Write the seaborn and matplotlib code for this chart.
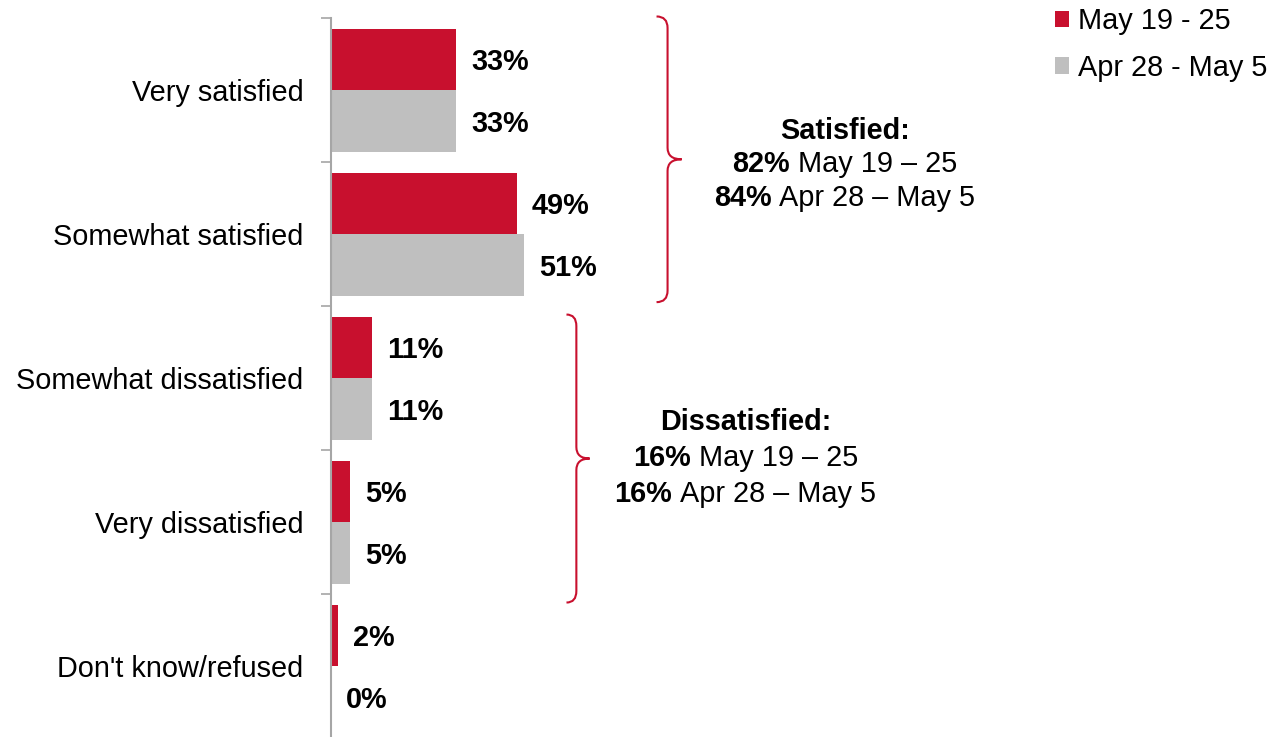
import matplotlib
matplotlib.use("Agg")
import numpy as np
import pandas as pd
import matplotlib.pyplot as plt
import seaborn as sns
from matplotlib.path import Path
from matplotlib.patches import PathPatch, Patch
from matplotlib.offsetbox import TextArea, HPacker, AnnotationBbox

# data
categories = ["Very satisfied", "Somewhat satisfied", "Somewhat dissatisfied",
              "Very dissatisfied", "Don't know/refused"]
periods = ["May 19 - 25", "Apr 28 - May 5"]
may_19_25 = [33, 49, 11, 5, 2]
apr_28_may_5 = [33, 51, 11, 5, 0]

summary_periods = ["May 19 \u2013 25", "Apr 28 \u2013 May 5"]
satisfied_totals = [82, 84]
dissatisfied_totals = [16, 16]

RED = "#C8102E"
GREY = "#BFBFBF"
AXIS_GREY = "#A6A6A6"
FS = 20.8

df = pd.DataFrame({
    "category": categories * 2,
    "value": may_19_25 + apr_28_may_5,
    "period": [periods[0]] * len(categories) + [periods[1]] * len(categories),
})

sns.set_theme(style="white")
plt.rcParams["font.family"] = ["Liberation Sans", "DejaVu Sans"]
plt.rcParams["text.color"] = "black"
plt.rcParams["ytick.color"] = "black"

fig = plt.figure(figsize=(12.78, 7.37), dpi=100)
px_per_pct = 3.8
left_px = 330.5
ax = fig.add_axes([left_px / 1278, -0.002, 1 - left_px / 1278, 720 / 737])

sns.barplot(data=df, y="category", x="value", hue="period", hue_order=periods,
            order=categories, orient="h", palette=[RED, GREY], saturation=1,
            width=0.86, linewidth=0, legend=False, ax=ax)

ax.set_xlim(0, (1278 - left_px) / px_per_pct)
ax.set_ylim(len(categories) - 0.5, -0.5)

# value labels just right of each bar
for cont in ax.containers:
    for bar in cont:
        w = bar.get_width()
        ax.annotate(f"{w:.0f}%", (w, bar.get_y() + bar.get_height() / 2),
                    xytext=(11, -2), textcoords="offset points",
                    ha="left", va="center", fontsize=FS, fontweight="bold",
                    color="black")

ax.xaxis.set_visible(False)
ax.set_ylabel("")
for s in ["top", "right", "bottom"]:
    ax.spines[s].set_visible(False)
ax.spines["left"].set_color(AXIS_GREY)
ax.spines["left"].set_linewidth(1.5)
ax.set_yticks(np.arange(-0.5, len(categories), 1), minor=True)
ax.tick_params(axis="y", which="major", length=0, pad=19.5, labelsize=FS,
               labelcolor="black")
ax.tick_params(axis="y", which="minor", length=7, width=1.2,
               color=AXIS_GREY, direction="out", left=True)


def brace(ax, x_hook, x_line, x_tip, y0, y1, r=0.08):
    ym = (y0 + y1) / 2
    verts = [(x_hook, y0), (x_line, y0), (x_line, y0 + r),
             (x_line, ym - r), (x_line, ym), (x_tip, ym),
             (x_line, ym), (x_line, ym + r),
             (x_line, y1 - r), (x_line, y1), (x_hook, y1)]
    codes = [Path.MOVETO, Path.CURVE3, Path.CURVE3,
             Path.LINETO, Path.CURVE3, Path.CURVE3,
             Path.CURVE3, Path.CURVE3,
             Path.LINETO, Path.CURVE3, Path.CURVE3]
    ax.add_patch(PathPatch(Path(verts, codes), facecolor="none",
                           edgecolor=RED, lw=1.5, clip_on=False))


brace(ax, 85.8, 88.7, 92.4, -0.514, 1.47)
brace(ax, 62.1, 64.7, 68.2, 1.556, 3.556)


def summary(ax, title, totals, x, ys):
    t = TextArea(title, textprops=dict(fontsize=FS, fontweight="bold",
                                       color="black"))
    ax.add_artist(AnnotationBbox(t, (x, ys[0]), frameon=False, pad=0,
                                 box_alignment=(0.5, 0.5), annotation_clip=False))
    for val, per, y in zip(totals, summary_periods, ys[1:]):
        b = TextArea(f"{val}%", textprops=dict(fontsize=FS, fontweight="bold",
                                               color="black"))
        r = TextArea(per, textprops=dict(fontsize=FS, color="black"))
        row = HPacker(children=[b, r], pad=0, sep=5.8, align="baseline")
        ax.add_artist(AnnotationBbox(row, (x, y), frameon=False, pad=0,
                                     box_alignment=(0.5, 0.5),
                                     annotation_clip=False))


summary(ax, "Satisfied:", satisfied_totals, 135.3, [0.278, 0.514, 0.75])
summary(ax, "Dissatisfied:", dissatisfied_totals, 109.2, [2.299, 2.55, 2.8])

handles = [Patch(facecolor=c, edgecolor="none") for c in [RED, GREY]]
fig.legend(handles, periods, loc="upper left",
           bbox_to_anchor=(1055 / 1278, 1 - 7 / 737), frameon=False,
           fontsize=FS, handlelength=0.5, handleheight=0.5,
           handletextpad=0.31, labelspacing=0.65, borderpad=0,
           borderaxespad=0)

fig.savefig("out.png", dpi=100)
